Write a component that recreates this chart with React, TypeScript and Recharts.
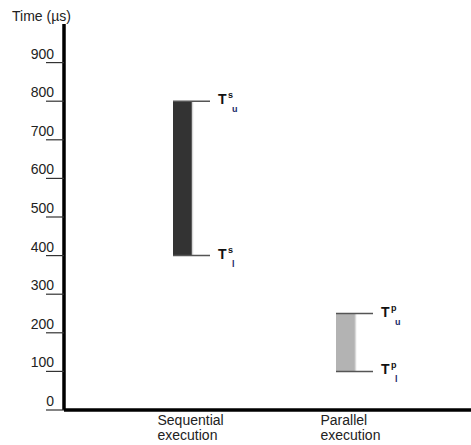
import { Bar, ComposedChart, XAxis, YAxis } from "recharts";

const categories = ["Sequential execution", "Parallel execution"];
const lowerTimes = [400, 100];
const upperTimes = [800, 250];
const modeTags = ["s", "p"];
const barFills = ["#333333", "#b3b3b3"];
const yTicks = [0, 100, 200, 300, 400, 500, 600, 700, 800, 900];

const rows = categories.map((name, i) => ({
  name,
  range: [lowerTimes[i], upperTimes[i]],
  tag: modeTags[i],
  fill: barFills[i],
}));

const font = "'Liberation Sans', Arial, sans-serif";

function YTick(props: any) {
  const { x, y, payload } = props;
  return (
    <g>
      <line x1={x - 18} x2={x} y1={y} y2={y} stroke="#333" strokeWidth={1.2} />
      <text x={x - 10} y={y - 4} textAnchor="end" fontSize={14} fontFamily={font} fill="#222">
        {payload.value}
      </text>
    </g>
  );
}

function XTick(props: any) {
  const { x, y, payload } = props;
  const [a, b] = String(payload.value).split(" ");
  return (
    <text x={x - 25} y={y} fontSize={14} fontFamily={font} fill="#222">
      <tspan x={x - 25} dy={13}>{a}</tspan>
      <tspan x={x - 25} dy={15}>{b}</tspan>
    </text>
  );
}

function TLabel({ x, y, tag, sub }: { x: number; y: number; tag: string; sub: string }) {
  return (
    <g fontFamily={font} fill="#111">
      <text x={x} y={y + 3} fontSize={14} fontWeight="bold">T</text>
      <text x={x + 10} y={y - 3} fontSize={9} fontWeight="bold">{tag}</text>
      <text x={x + 14} y={y + 11} fontSize={9} fontWeight="bold" fill="#1a2a6a">{sub}</text>
    </g>
  );
}

function RangeShape(props: any) {
  const { x, y, width, height, payload } = props;
  const right = x + width;
  return (
    <g>
      <rect x={x} y={y} width={width} height={height} fill={payload.fill} />
      <line x1={right + 0.5} x2={right + 0.5} y1={y} y2={y + height} stroke="#d8d8d8" strokeWidth={1.5} />
      <line x1={x} x2={right + 18} y1={y} y2={y} stroke="#555" strokeWidth={1.5} />
      <line x1={x} x2={right + 18} y1={y + height} y2={y + height} stroke="#555" strokeWidth={1.5} />
      <TLabel x={right + 26} y={y} tag={payload.tag} sub="u" />
      <TLabel x={right + 26} y={y + height} tag={payload.tag} sub="l" />
    </g>
  );
}

export default function App() {
  return (
    <div style={{ position: "absolute", left: 0, top: 0, width: 471, height: 445, background: "#fff" }}>
      <ComposedChart width={471} height={445} data={rows} margin={{ top: 24, right: 0, bottom: 0, left: 0 }}>
        <XAxis
          dataKey="name"
          height={35}
          padding={{ left: 37, right: 44 }}
          axisLine={{ stroke: "#000", strokeWidth: 3.5 }}
          tickLine={false}
          tickSize={0}
          tick={<XTick />}
          interval={0}
        />
        <YAxis
          type="number"
          domain={[0, 1000]}
          ticks={yTicks}
          width={64}
          axisLine={{ stroke: "#000", strokeWidth: 3.5 }}
          tickLine={false}
          tickSize={0}
          tickMargin={0}
          tick={<YTick />}
          interval={0}
          label={{
            content: () => (
              <text x={12} y={21} fontSize={14} fontFamily={font} fill="#222">
                Time (µs)
              </text>
            ),
          }}
        />
        <Bar dataKey="range" barSize={19} shape={<RangeShape />} isAnimationActive={false} />
      </ComposedChart>
    </div>
  );
}
